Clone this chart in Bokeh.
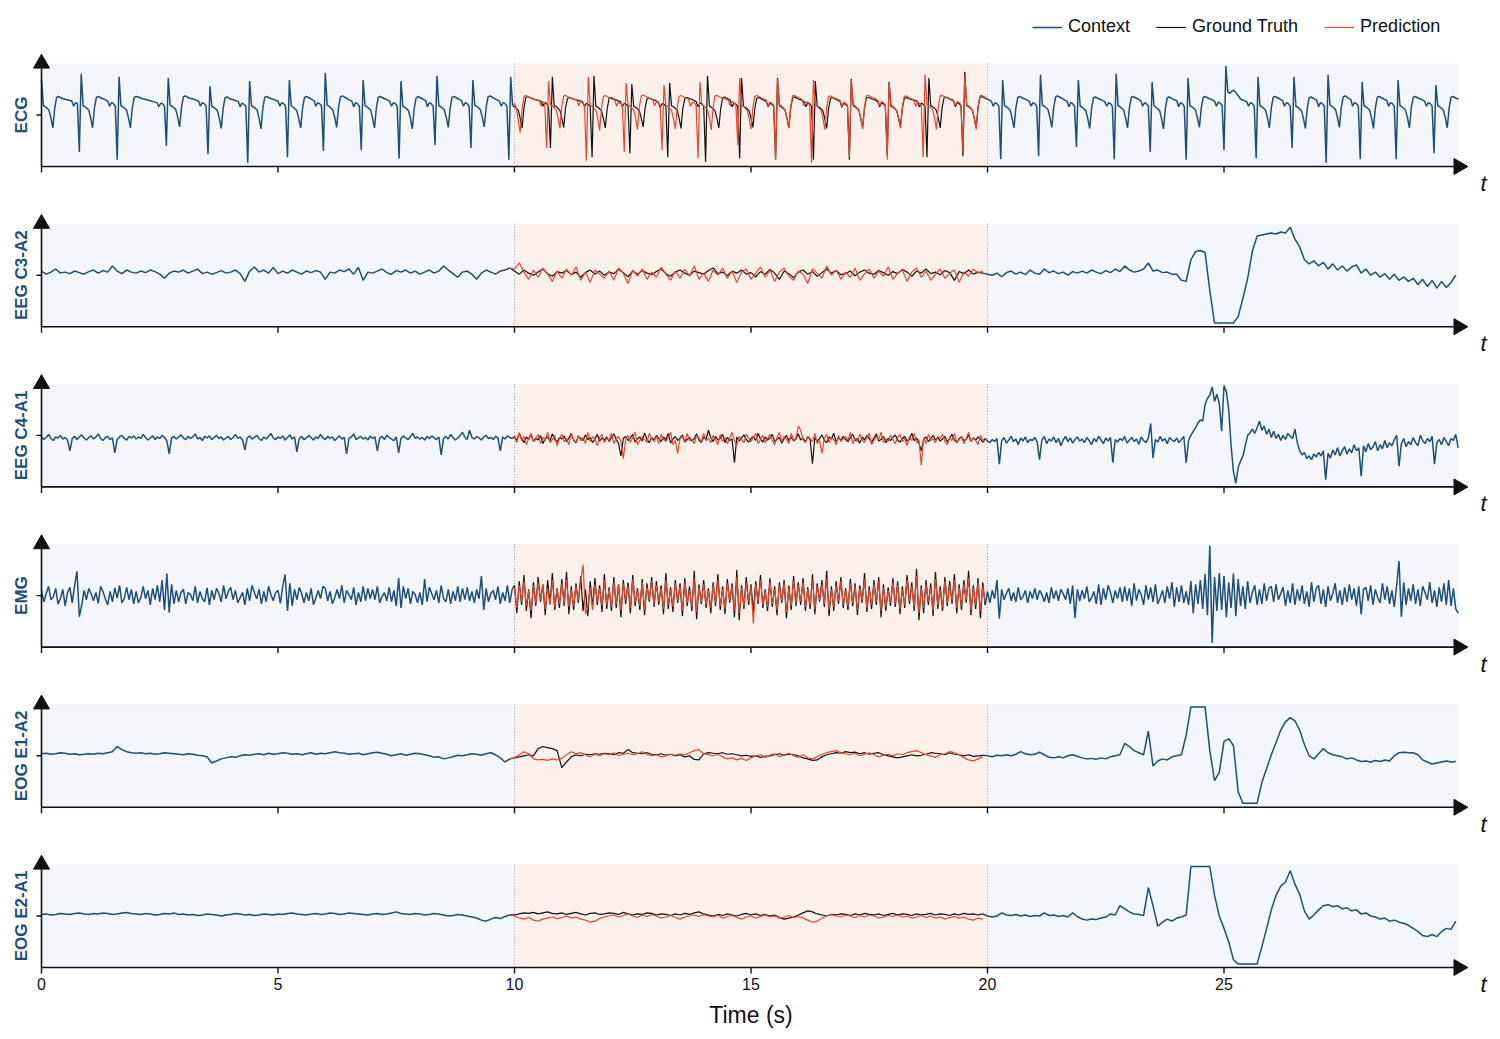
import numpy as np
from bokeh.plotting import figure
from bokeh.layouts import column
from bokeh.models import Range1d, Legend, LegendItem
from bokeh.core.properties import value
from bokeh.embed import file_html
from bokeh.resources import INLINE

# ---------------- chart values (100 = full half-height) ----------------
channels = ["ECG", "EEG C3-A2", "EEG C4-A1", "EMG", "EOG E1-A2", "EOG E2-A1"]
sample_rates = [25, 10, 20, 20, 10, 10]          # samples per second of the typed series
x_ticks = [0, 5, 10, 15, 20, 25]
x_tick_labels = ["0", "5", "10", "15", "20", "25"]
context_end = 10.0
forecast_end = 20.0
record_end = 29.96
x_label = "Time (s)"
legend_labels = ["Context", "Ground Truth", "Prediction"]

ecg_ctx_a = [
    68, 18, 16, 13, 9, -6, -25, 14, 34, 36, 34, 32, 31, 30, 29, 28, 27, 17, 24, 22,
    -72, 80, 18, 16, 13, 9, -6, -25, 14, 34, 36, 34, 32, 31, 29, 27, 17, 24, 22, 17,
    -87, 74, 18, 16, 13, 9, -6, -25, 14, 34, 36, 35, 34, 32, 31, 30, 29, 28, 27, 26, 25, 24, 16, 23, 22, 17,
    -60, 72, 19, 17, 14, 10, -4, -23, 15, 35, 37, 35, 33, 32, 31, 30, 28, 27, 17, 24, 22, 17,
    -76, 56, 17, 15, 12, 8, -7, -26, 13, 33, 35, 33, 31, 30, 29, 27, 26, 16, 23, 21, 17,
    -93, 66, 18, 16, 13, 9, -6, -27, 14, 34, 36, 34, 32, 31, 30, 28, 27, 17, 24, 22, 17,
    -82, 68, 18, 15, 12, 8, -8, -25, 14, 34, 36, 34, 32, 30, 28, 17, 24, 22, 17,
    -70, 82, 19, 17, 13, 9, -5, -24, 15, 35, 37, 35, 33, 31, 29, 27, 16, 24, 22, 17,
    -68, 68, 18, 16, 13, 9, -6, -25, 14, 34, 36, 34, 32, 31, 29, 27, 17, 24, 22, 17,
    -85, 66, 17, 15, 12, 8, -7, -27, 13, 33, 36, 34, 32, 30, 28, 16, 24, 22, 17,
    -58, 76, 18, 16, 13, 9, -6, -24, 14, 34, 36, 34, 32, 30, 28, 17, 24, 22, 17,
    -64, 68, 19, 17, 14, 10, -5, -23, 15, 35, 37, 35, 33, 31, 29, 27, 17, 24, 22, 17,
    -87, 74, 18,
]
ecg_truth = [
    16, 13, 9, -6, -25, 14, 34, 36, 34, 32, 31, 30, 29, 28, 27, 17, 24, 22, 17,
    -64, 74, 18, 16, 13, 9, -6, -24, 14, 32, 34, 32, 31, 30, 29, 28, 27, 26, 16, 23, 21, 17,
    -82, 76, 17, 15, 12, 8, -7, -25, 13, 32, 34, 32, 30, 29, 27, 26, 16, 23, 21, 17,
    -74, 60, 17, 15, 12, 8, -6, -23, 13, 31, 33, 32, 30, 29, 27, 25, 15, 22, 21, 17,
    -82, 62, 18, 16, 13, 9, -6, -26, 14, 32, 34, 33, 31, 30, 28, 26, 16, 23, 22, 17,
    -91, 76, 18, 15, 12, 8, -7, -25, 13, 33, 35, 33, 31, 29, 16, 23, 21, 17,
    -84, 72, 17, 15, 12, 8, -6, -24, 13, 32, 34, 32, 30, 28, 27, 16, 23, 21, 17,
    -87, 72, 18, 16, 13, 9, -6, -25, 14, 33, 35, 33, 31, 30, 28, 26, 16, 24, 22, 17,
    -87, 66, 17, 15, 12, 8, -7, -26, 13, 32, 34, 32, 30, 28, 27, 15, 23, 21, 17,
    -87, 70, 18, 16, 13, 9, -6, -24, 14, 33, 34, 33, 31, 30, 28, 26, 16, 23, 22, 17,
    -78, 64, 17, 15, 12, 8, -6, -23, 13, 32, 34, 32, 31, 30, 29, 28, 26, 16, 23, 21, 17,
    -82, 72, 18, 16, 13, 9, -6, -25, 14, 33, 35, 33, 31, 29, 28, 16, 24, 22, 17,
    -80, 84, 18, 16, 13, 9, -6, -25, 14, 34, 36, 34, 32,
]
ecg_pred = [
    22, 12, -10, -34, 10, 36, 38, 36, 34, 33, 31, 30, 29, 28, 18, 26, 22,
    -64, 66, 20, 18, 14, 10, -5, -26, 16, 37, 38, 36, 34, 33, 32, 30, 29, 18, 26, 24, 19,
    -89, 74, 19, 17, 13, 9, -6, -30, 15, 36, 38, 36, 34, 32, 30, 29, 17, 25, 23, 19,
    -72, 62, 20, 18, 14, 10, -5, -28, 16, 37, 39, 37, 35, 33, 31, 30, 18, 26, 24, 19,
    -68, 58, 19, 17, 13, 9, -6, -27, 15, 36, 38, 36, 34, 32, 30, 17, 25, 23, 19,
    -84, 64, 20, 18, 14, 10, -5, -29, 16, 37, 38, 36, 34, 33, 32, 30, 29, 18, 26, 24, 19,
    -58, 72, 19, 17, 13, 9, -6, -27, 15, 36, 38, 36, 34, 32, 31, 29, 17, 25, 23, 19,
    -87, 70, 20, 18, 14, 10, -5, -26, 16, 37, 38, 36, 34, 32, 30, 18, 26, 24, 19,
    -93, 68, 19, 17, 13, 9, -6, -28, 15, 36, 37, 35, 33, 32, 30, 29, 17, 25, 23, 19,
    -82, 68, 20, 18, 14, 10, -5, -27, 16, 37, 38, 36, 34, 33, 31, 29, 18, 26, 24, 19,
    -87, 62, 19, 17, 13, 9, -6, -26, 15, 36, 37, 35, 33, 31, 30, 17, 25, 23, 19,
    -82, 78, 20, 18, 14, 10, -5, -28, 16, 37, 38, 36, 34, 33, 32, 30, 29, 18, 26, 24, 19,
    -72, 78, 20, 18, 14, 10, -5, -28, 16, 37, 38, 36, 34,
]
ecg_ctx_b = [
    31, 29, 27, 17, 24, 22, 17,
    -86, 68, 18, 16, 13, 9, -6, -25, 14, 34, 36, 34, 32, 31, 29, 27, 17, 24, 22, 17,
    -80, 78, 19, 17, 14, 10, -5, -24, 15, 35, 37, 35, 33, 31, 29, 27, 16, 24, 22, 17,
    -62, 68, 17, 15, 12, 8, -7, -26, 13, 33, 35, 33, 31, 30, 28, 26, 17, 24, 22, 17,
    -86, 80, 18, 16, 13, 9, -6, -25, 14, 34, 36, 34, 32, 30, 28, 17, 24, 22, 17,
    -72, 64, 18, 15, 12, 8, -7, -27, 13, 33, 35, 33, 31, 29, 28, 16, 24, 22, 17,
    -87, 72, 18, 16, 13, 9, -6, -24, 14, 34, 36, 34, 32, 31, 29, 27, 17, 25, 23, 19,
    -68, 95, 45, 42, 46, 48, 45, 40, 35, 30, 29, 27, 26, 17, 24, 22, 17,
    -84, 74, 18, 16, 13, 9, -6, -25, 14, 34, 36, 34, 32, 30, 28, 17, 24, 22, 17,
    -64, 74, 17, 15, 12, 8, -7, -26, 13, 33, 35, 33, 31, 29, 16, 24, 22, 17,
    -93, 78, 19, 17, 14, 10, -5, -24, 15, 35, 37, 35, 32, 30, 17, 24, 22, 17,
    -86, 64, 18, 16, 13, 9, -6, -26, 14, 34, 36, 34, 32, 30, 28, 17, 24, 22, 17,
    -86, 68, 18, 16, 13, 9, -6, -25, 14, 34, 36, 34, 32, 31, 29, 27, 17, 24, 22, 17,
    -74, 58, 18, 16, 13, 9, -6, -25, 14, 34, 36, 34, 32, 31,
]

c3_ctx_a = [
    8, 2, 6, 12, 4, 6, 3, 8, 5, 2,
    7, 10, 4, 9, 6, 18, 8, 3, 10, 6,
    4, 8, 5, 10, 7, 2, -6, 4, 8, 6,
    10, 4, 8, 12, 3, 6, 2, 5, 9, 4,
    6, 10, 3, -12, 8, 16, 6, 10, 4, 15,
    3, 8, 4, 10, 6, 2, 8, 5, 9, 6,
    -8, 6, 4, 10, 7, 12, 2, 15, -10, 6,
    4, 8, 12, 5, 2, 9, 6, 10, 4, 8,
    2, 6, 10, 4, 8, 18, 10, 3, -4, 6,
    8, 2, -8, 4, 10, 6, 2, 8, 10, 14,
]
c3_truth = [
    8, 2, 10, 4, 0, 6, 12, 3, -2, 7,
    4, 9, 1, 6, -4, 5, 10, 2, 8, 0,
    6, 3, 11, 5, -3, 8, 2, 9, 4, 1,
    7, 12, 3, -2, 6, 10, 4, 0, 8, 5,
    2, 9, 14, 3, 6, -1, 8, 4, 10, 2,
    5, -3, 7, 2, 11, 4, -8, 8, 3, -5,
    6, 10, 2, 7, -2, 5, 12, 4, 9, 1,
    3, 8, -1, 6, 10, 4, 2, 9, 5, 0,
    7, 3, 11, 6, -2, 8, 4, 12, 3, 6,
    1, 9, 5, -10, 7, 3, 10, 2, 6, 4,
]
c3_pred = [
    12, 24, 6, -8, 10, -4, 14, 2, -12, 8,
    -6, 12, 0, 16, -10, 6, -14, 10, 2, -6,
    8, -10, 14, 4, -16, 10, -2, 12, -8, 6,
    -4, 16, 2, -10, 8, -6, 12, -2, 18, -8,
    4, -12, 10, 0, 14, -6, 8, -14, 6, 12,
    -8, 4, 16, -4, 10, -12, 6, 14, -2, -10,
    8, 2, -16, 12, 4, -6, 18, 0, 10, -8,
    6, -4, 14, -10, 2, 12, -6, 8, -2, 16,
    -8, 4, 10, -12, 6, 14, -4, 8, -10, 2,
    12, -6, 4, 10, -14, 6, -2, 12, 4, 8,
]
c3_ctx_b = [
    2, 0, 4, -3, 5, 8, 2, 6, 1, 10,
    4, 2, 12, 5, 8, 3, 6, 0, 7, 4,
    8, 4, 10, 6, 3, 9, 5, 12, 7, 18,
    10, 6, 8, 12, 24, 8, 10, 5, 6, 2,
    2, -10, -12, 30, 46, 48, 44, -30, -93, -93,
    -93, -93, -93, -80, -45, -6, 47, 76, 78, 80,
    82, 80, 84, 82, 93, 70, 55, 30, 22, 28,
    18, 25, 12, 22, 10, 18, 8, 16, 20, 4,
    12, 0, 6, -4, 3, -8, 2, -10, -3, -12,
    -6, -18, -8, -22, -10, -25, -12, -24, -14, 0,
]

c4_ctx_a = [
    -2, -8, -4, 2, -6, -10, -3, -5, 0, -7, -4, -9, -30, -6, -2, -8, -3, 1, -5, -9,
    -4, -1, -7, -3, 3, -6, -10, -4, -2, -8, -5, -34, -8, -3, 0, -6, -9, -2, -5, -1,
    -7, -3, -6, 2, -4, -9, -5, -1, -8, -3, -6, 0, -4, -10, -36, -5, -2, -7, -3, 1,
    -5, -8, -2, -6, -3, 3, -7, -4, -10, -2, -5, -1, -8, -4, 0, -6, -3, -9, -5, -2,
    -8, -4, 2, -6, -3, -9, -28, -5, -1, -7, -4, 0, -6, -10, -3, -7, -2, 4, -5, -8,
    -3, -6, -1, -9, -4, 1, -7, -3, -32, -6, -2, -8, -5, 0, -4, -9, -3, -6, 2, -5,
    -8, -2, -6, -3, -10, -5, -1, -7, -4, -36, -6, -3, 3, -8, -5, -2, -7, -4, -9, -1,
    -6, -3, -30, -5, -2, -8, 0, -4, -7, -10, -3, -34, -6, -1, -5, -8, -2, 4, -6, -3,
    -7, -4, -9, -2, -6, -1, -5, -8, -3, -38, -6, -2, -7, 2, -4, -9, -5, 0, 6, -3,
    -8, 10, -4, -7, -2, -5, -9, -3, 0, -6, -4, -8, -2, -5, -30, -3, -7, -1, -4, -6,
]
c4_truth = [
    -2, -10, 4, -6, -14, -3, -8, 2, -12, -5, -9, 0, -16, -6, -3, -11, 3, -8, -13, -4,
    -7, -1, -12, -5, 4, -9, -15, -2, -6, -10, 1, -8, -4, -14, -7, 2, -11, -5, -9, -3,
    -12, -4, 3, -8, -16, -40, -6, -2, -10, -5, 2, -13, -7, -3, -11, 5, -8, -14, -4, -9,
    0, -6, -12, -3, -9, 4, -15, -7, -2, -10, -5, 1, -13, -8, -4, -11, -6, 3, -9, -14,
    -3, -8, 10, -5, -12, -2, -9, -6, 2, -14, -4, -10, -7, -53, -3, -11, -5, 1, -8, -13,
    -6, -2, -10, 4, -7, -13, -3, -9, -5, 2, -12, -8, -4, -15, -6, 0, -10, -3, -11, -7,
    3, -9, -5, -13, -2, -8, -55, -4, -11, -6, 1, -10, -14, -3, -7, 4, -12, -5, -9, -2,
    -8, -12, -4, 2, -10, -6, -15, -3, -9, 0, -7, -13, -5, 3, -11, -8, -2, -14, -6, -10,
    -4, 1, -9, -13, -6, -2, -11, -7, 4, -10, -5, -15, -30, -8, -3, -12, -6, 0, -9, -4,
    -11, -7, -2, -13, -5, 2, -9, -14, -6, -3, -10, -8, 1, -12, -5, -9, -3, -7, -13, -6,
]
c4_pred = [
    -4, -14, 6, -10, -2, -18, -6, 4, -12, -8, 2, -16, -4, -10, 6, -14, -8, 0, -20, -6,
    2, -12, -6, -18, 4, -8, -14, 0, -10, -4, -16, 6, -12, -2, -8, -20, -4, 2, -14, -6,
    -10, 4, -16, -6, -2, -12, -45, -8, 0, -14, -4, 6, -18, -10, -2, -8, -14, 4, -6, -12,
    -2, -16, 2, -8, -12, -4, 6, -18, -10, -35, -6, -2, -14, 4, -10, -8, -16, 0, -6, -12,
    4, -10, -6, -14, 0, -8, -18, 2, -12, -4, -16, -6, 6, -10, -20, -2, -8, -14, 2, -6,
    -12, -4, 4, -16, -8, 0, -14, -6, 2, -10, -18, -4, 6, -12, -2, -8, -16, 4, -10, -6,
    18, 10, -8, -14, -2, -6, -12, 4, -16, -10, -35, -6, 2, -14, -4, -8, -18, 0, -12, -6,
    -2, -10, 6, -16, -6, -12, 2, -8, -14, -4, 4, -18, -10, -2, -8, 6, -14, -6, -12, 0,
    -8, -16, -4, 2, -12, -6, -20, -2, -10, 4, -14, -8, -58, -4, -16, 2, -10, -6, -14, -2,
    -6, 2, -12, -18, -4, -10, 4, -14, -8, -2, -16, -6, 6, -12, -4, -10, -18, 0, -8, -12,
]
c4_ctx_b = [
    -11, -14, -8, -12, -6, -56, -10, -4, -15, -9, -2, -12, -7, -18, -5, -11, -3, -14, -8, -10,
    -4, -13, -47, -9, -2, -16, -7, -11, -3, -14, -6, -20, -9, -2, -12, -5, -15, -8, -3, -11,
    -7, -14, -4, -10, -18, -6, -12, -2, -9, -16, -5, -11, -4, -53, -8, -13, -6, -10, -2, -15,
    -9, -4, -12, -7, -17, -3, -10, -14, -5, 23, -44, -8, -13, -2, -11, -6, -16, -4, -9, -12,
    -5, -14, -8, -2, -53, -10, 0, 8, 15, 24, 30, 28, 60, 72, 78, 94, 66, 80, 62, 8,
    97, 85, 50, -20, -70, -93, -62, -50, -40, -20, 0, 5, 12, 4, 15, 28, 10, 18, 2, 12,
    -4, 8, -6, 2, -10, 0, -8, 4, -2, -6, 12, -14, -30, -38, -33, -45, -40, -47, -36, -42,
    -33, -40, -30, -86, -35, -44, -28, -38, -24, -40, -30, -22, -36, -26, -34, -18, -30, -24, -79, -20,
    -32, -16, -28, -22, -12, -30, -18, -26, -10, -24, -14, -20, -8, 0, -60, -16, -6, -22, -12, -18,
    -4, -14, -20, 0, -10, -16, -6, -12, -2, -56, -14, -8, -18, -4, -12, -20, -6, -10, 2, -24,
]

emg_ctx_a = [
    10, -12, 4, 18, -8, -2, 14, -16, -6, 12, -20, 6, 16, -14, 20, 47, -41, -18, 10, -8,
    14, 3, -10, 6, -15, 18, 8, -6, -18, 8, -12, 15, -5, 20, -14, -6, 16, -8, 12, -16,
    8, -14, -4, 18, -6, 10, -18, 14, -8, 20, -12, 30, -28, 43, -33, 22, -16, 10, -12, 6,
    12, -16, 6, 2, -10, 18, -14, 8, -6, -12, 15, -18, 10, -8, 14, 4, -12, 20, -6, 8,
    16, -8, 10, -14, -4, 6, -18, 14, -10, 20, 6, -6, 12, -16, 8, -12, 18, 2, -10, 6,
    10, -15, 18, 41, -30, 24, -20, 12, -8, 16, 4, -14, 6, -10, 14, -18, -4, 10, -6, 18,
    14, -10, 8, -16, -4, 12, -6, 20, -14, 10, 2, -8, 16, -18, 6, -12, 18, -10, 14, -6,
    12, -8, 18, -14, -2, 6, -10, 16, -12, 10, -20, 34, -24, 18, -6, 14, -16, 8, 2, -14,
    6, -18, 32, -12, 16, 4, -8, 10, -14, 20, -6, -12, 12, -16, 8, -10, 18, -12, 14, -8,
    16, -10, 8, -14, 12, -6, 38, -28, 14, -12, 4, 10, -8, 18, -16, 6, -10, 20, -14, 12,
]
emg_truth = [
    20, -34, 28, -18, 40, -30, 12, -44, 26, -20, 36, -12, 22, -38, 30, -16, 44, -28, 14, -24,
    32, -20, 46, -36, 18, -28, 24, -14, 38, -30, 12, -40, 28, -22, 34, -18, 20, -32, 42, -26,
    16, -30, 36, -24, 22, -42, 30, -16, 26, -34, 40, -20, 14, -28, 32, -38, 24, -12, 36, -22,
    28, -18, 20, -36, 44, -26, 16, -32, 30, -14, 24, -40, 34, -20, 18, -30, 48, -46, 22, -16,
    30, -24, 14, -34, 26, -20, 42, -28, 18, -36, 32, -14, 24, -42, 50, -48, 20, -26, 36, -18,
    22, -32, 28, -16, 40, -24, 12, -30, 34, -22, 18, -38, 26, -14, 30, -44, 20, -28, 38, -20,
    26, -18, 34, -30, 16, -26, 42, -36, 24, -12, 30, -22, 48, -40, 18, -30, 28, -16, 36, -24,
    14, -28, 32, -20, 24, -38, 20, -14, 44, -32, 18, -26, 30, -18, 36, -42, 22, -30, 16, -20,
    34, -22, 28, -36, 18, -24, 40, -16, 26, -30, 52, -48, 20, -34, 30, -18, 24, -40, 46, -26,
    18, -30, 36, -20, 28, -16, 42, -34, 22, -28, 30, -14, 48, -38, 20, -26, 34, -44, 26, -18,
]
emg_pred = [
    16, -24, 20, -12, 28, -20, 10, -30, 18, -14, 26, -8, 22, -26, 14, -18, 30, -22, 12, -16,
    24, -14, 30, -22, 12, -20, 18, -10, 28, 60, -36, -24, 16, -28, 22, -12, 14, -20, 30, -18,
    12, -22, 26, -16, 20, -30, 24, -10, 18, -24, 32, -14, 10, -20, 26, -28, 16, -8, 28, -18,
    20, -12, 14, -26, 30, -18, 12, -22, 24, -10, 18, -30, 26, -14, 10, -22, 34, -32, 16, -12,
    22, -18, 10, -24, 20, -14, 30, -20, 12, -26, 24, -10, 18, -30, 36, -34, 14, -20, 26, -12,
    18, -54, 22, -12, 30, -18, 8, -22, 26, -16, 12, -28, 20, -10, 24, -32, 14, -20, 28, -14,
    20, -12, 26, -22, 12, -18, 32, -26, 18, -8, 22, -16, 34, -28, 12, -22, 20, -10, 28, -18,
    10, -20, 24, -14, 18, -28, 14, -10, 32, -24, 12, -18, 22, -12, 28, -30, 16, -22, 10, -14,
    26, -16, 20, -26, 12, -18, 30, -10, 18, -22, 38, -34, 14, -24, 22, -12, 16, -30, 32, -18,
    12, -22, 28, -14, 20, -10, 30, -24, 16, -20, 22, -8, 34, -28, 14, -18, 26, -30, 18, -12,
]
emg_ctx_b = [
    8, -14, 10, -6, 30, -45, 12, -8, 4, 14, -10, 6, -12, 16, -8, -2, 10, -14, 8, -6,
    14, -8, 10, 2, -12, 6, -14, 16, -6, 10, -10, 12, 4, -8, 14, -16, 20, -44, 12, -10,
    10, -6, 18, -12, -4, 8, -16, 22, -18, 14, -8, 20, 6, -14, 10, -6, 16, -12, 18, -10,
    14, -20, 24, -10, 12, 2, -18, 20, -8, 16, -12, 22, -16, -4, 10, -14, 18, -6, 26, -22,
    16, -12, 20, -14, 8, -18, 28, -34, 22, -16, 30, -26, 42, -38, 97, -92, 36, -30, 44, -28,
    38, -42, 26, -24, 43, -40, 32, -20, 18, -26, 28, -14, 6, 20, -18, 12, -16, 24, -10, 14,
    18, -12, 22, -8, 4, 16, -20, 10, -14, 24, -18, 12, -10, 20, -16, 8, -22, 26, -12, 14,
    20, -16, 12, -22, 18, -10, 4, 24, -14, 10, -18, 16, -12, 22, -8, 14, -20, 18, -36, 12,
    16, -10, 20, -18, 12, -4, -14, 24, -8, 18, -16, 10, -22, 20, 67, -41, 26, -18, 14, -10,
    22, -16, 12, -20, 18, 6, -8, 26, -14, 10, -22, 16, -12, 24, -18, 30, -20, 14, -26, -34,
]

e1_ctx_a = [
    4, 5, 3, 4, 6, 5, 3, 4, 2, 3,
    4, 3, 5, 4, 6, 8, 18, 12, 8, 6,
    5, 6, 4, 5, 3, 4, 6, 5, 4, 3,
    2, 4, 3, 1, 0, -2, -14, -10, -6, -4,
    -2, -3, 0, 2, 1, 3, 4, 2, 5, 3,
    4, 6, 5, 3, 4, 2, 4, 6, 3, 5,
    4, 6, 8, 6, 5, 3, 4, 5, 2, 4,
    6, 7, 5, 3, 0, 2, 4, 1, 3, 5,
    4, 2, 0, -3, -2, -6, -4, -2, 1, 0,
    2, 4, 3, 1, 4, 6, 2, -4, -12, -6,
]
e1_truth = [
    -4, -2, 0, 2, 0, 14, 18, 16, 14, 10,
    -23, -12, -2, 2, 0, 3, 2, 4, 3, 5,
    4, 2, 6, 5, 12, 6, 5, 4, 6, 3,
    2, 4, 1, 3, 0, 2, -2, 0, -7, -8,
    4, 6, 5, 4, 6, 3, 4, 2, 0, 1,
    -1, 0, -3, -1, 0, 2, 4, 1, 3, 2,
    0, -4, -6, -9, -8, -2, 2, 4, 6, 5,
    8, 6, 7, 4, 6, 3, 5, 6, 2, 0,
    -2, -4, -2, 0, 2, 0, 1, 3, 6, 5,
    4, 2, 6, 3, 2, 0, 2, -1, 0, 1,
]
e1_pred = [
    -4, 2, 8, 4, -6, -8, -7, -9, -6, -8,
    -5, 2, 8, 4, 6, 2, -2, 3, 0, 4,
    2, 6, 0, 3, 5, 2, 4, 8, 3, 0,
    2, -2, 0, 3, 1, 4, 2, 6, 10, 12,
    4, 2, 0, 3, -2, -6, -4, -8, -5, -9,
    -4, 0, 2, -3, 1, 4, -2, 2, 5, 0,
    -3, 2, -4, -6, -2, 3, 6, 8, 10, 6,
    4, 2, 5, 0, 3, 6, 2, -2, 1, 3,
    0, 4, 2, 6, 8, 10, 6, 2, 0, -3,
    2, 4, 8, 6, 2, -4, -8, -10, -6, -2,
]
e1_ctx_b = [
    0, -2, 1, 0, 2, 0, 3, 8, 4, 2,
    3, 7, 2, -3, -4, -2, -4, 0, 2, -1,
    -4, -6, -5, -7, -4, -6, -2, 0, 2, 24,
    18, 10, 6, 2, 48, -20, -10, -6, -8, -2,
    0, 2, 40, 95, 95, 95, 95, 10, -48, -32,
    28, 33, 20, -70, -92, -92, -92, -92, -52, -25,
    2, 26, 50, 66, 74, 68, 50, 22, 0, -6,
    4, 14, 6, 2, 0, -2, -6, -4, -8, -11,
    -10, -12, -9, -11, -8, -10, 0, 6, 7, 6,
    6, 2, -8, -12, -16, -14, -12, -10, -12, -11,
]

e2_ctx_a = [
    3, 4, 2, 3, 5, 4, 3, 5, 6, 4,
    3, 5, 4, 6, 5, 3, 4, 6, 7, 5,
    4, 3, 5, 4, 2, 3, 5, 4, 6, 3,
    4, 2, 3, 1, 2, 4, 3, 2, 0, 2,
    3, 5, 4, 2, 3, 1, 2, 4, 3, 2,
    4, 3, 5, 6, 4, 3, 2, 4, 5, 3,
    4, 6, 5, 3, 4, 6, 5, 4, 3, 2,
    4, 5, 3, 4, 6, 8, 5, 4, 3, 5,
    4, 2, 3, 5, 4, 2, 0, 1, 3, 2,
    0, -2, -4, -8, -10, -6, -3, -5, -1, 2,
]
e2_truth = [
    2, 4, 6, 5, 7, 4, 6, 8, 5, 4,
    6, 3, 5, 7, 4, 2, 5, 6, 3, 4,
    6, 5, 3, 7, 4, 2, 4, 3, 6, 5,
    2, 4, 3, 1, 4, 2, 5, 3, 6, 8,
    4, 2, 0, 3, 1, 4, 2, 0, 3, 5,
    2, 4, 1, 3, 0, 2, -3, -6, -4, -2,
    2, 6, 10, 8, 4, 2, 0, 3, 2, 4,
    3, 1, 4, 2, 5, 3, 2, 4, 1, 3,
    5, 2, 4, 3, 1, 4, 2, 3, 5, 2,
    4, 3, 1, 4, 2, 5, 3, 4, 2, 4,
]
e2_pred = [
    0, -4, -6, -3, -8, -10, -6, -4, -2, -5,
    -3, 0, -4, -2, -6, -8, -12, -10, -5, -2,
    0, 2, -2, 1, 4, 0, -3, 2, -1, 3,
    0, -4, -2, 1, -3, -6, -2, 0, 2, -1,
    3, 0, -2, 2, -4, -1, 1, -3, -6, -2,
    0, -4, -1, 2, -2, 0, -4, -2, 1, -3,
    -1, -4, -8, -12, -10, -4, 0, 3, 0, -2,
    2, 0, -3, 1, -2, 2, 0, -4, -2, 1,
    -1, 2, -2, 0, -4, -2, 1, -3, 0, -4,
    -2, -6, -3, -1, -4, -2, -6, -8, -4, -6,
]
e2_ctx_b = [
    0, -2, 0, 6, 2, 1, 3, 0, 2, -1,
    1, 0, 6, 1, 2, -1, 1, -2, 6, -1,
    -6, -8, -6, -7, -4, -2, 4, 2, 20, 14,
    8, 4, 3, 1, 55, 20, -20, -12, -6, -10,
    -4, -2, 2, 96, 96, 96, 96, 96, 40, 0,
    -24, -50, -85, -93, -93, -93, -93, -93, -60, -25,
    12, 40, 58, 66, 88, 62, 42, 10, -6, 2,
    12, 20, 22, 18, 20, 14, 16, 10, 12, 4,
    6, 0, -2, -6, -4, -10, -8, -12, -14, -18,
    -24, -30, -38, -40, -36, -40, -30, -24, -26, -10,
]

context_a = [ecg_ctx_a, c3_ctx_a, c4_ctx_a, emg_ctx_a, e1_ctx_a, e2_ctx_a]
truth = [ecg_truth, c3_truth, c4_truth, emg_truth, e1_truth, e2_truth]
prediction = [ecg_pred, c3_pred, c4_pred, emg_pred, e1_pred, e2_pred]
context_b = [ecg_ctx_b, c3_ctx_b, c4_ctx_b, emg_ctx_b, e1_ctx_b, e2_ctx_b]

# ---------------- styling / layout ----------------
C_CONTEXT = "#1f4e79"
C_TRUTH = "#111111"
C_PRED = "#e5472e"
BG_CONTEXT = "#f3f7fc"
BG_FORECAST = "#fcf1ea"
SPINE = "#111111"
FONT_NAME = "Liberation Sans"
FONT = value(FONT_NAME)

W = 1500
X0 = 41.0      # pixel of t = 0
XS = 47.3      # pixels per second
YS = 51.5      # pixels per unit (half panel height)
fig_tops = [0, 200, 360, 520, 680, 840]
fig_heights = [200, 160, 160, 160, 160, 199]
centers = [114.5 + 160.2 * k for k in range(6)]

figs = []
for k, name in enumerate(channels):
    top, h, c = fig_tops[k], fig_heights[k], centers[k]
    p = figure(width=W, height=h, title=None,
               x_range=Range1d(-X0 / XS, (W - X0) / XS),
               y_range=Range1d(-(top + h - c) / YS, (c - top) / YS),
               x_axis_type=None, y_axis_type=None,
               toolbar_location=None, output_backend="svg", min_border=0)
    p.outline_line_color = None
    p.background_fill_color = "white"
    p.border_fill_color = "white"

    # shaded regions
    p.quad(left=[0, context_end, forecast_end], right=[context_end, forecast_end, record_end],
           bottom=-1, top=1, fill_color=[BG_CONTEXT, BG_FORECAST, BG_CONTEXT], line_color=None)
    p.segment(x0=[context_end, forecast_end], y0=[-1, -1], x1=[context_end, forecast_end], y1=[1, 1],
              line_color="#9a9a9a", line_width=1, line_dash="1 2")

    dt = 1.0 / sample_rates[k]
    a = np.array(context_a[k]) / 100.0
    g = np.array(truth[k]) / 100.0
    pr = np.array(prediction[k]) / 100.0
    b = np.array(context_b[k]) / 100.0
    xa = np.arange(len(a)) * dt
    xg = context_end + np.arange(len(g)) * dt
    xp = context_end + np.arange(len(pr)) * dt
    xb = forecast_end + np.arange(len(b)) * dt

    r_ctx = p.line(xa, a, line_color=C_CONTEXT, line_width=1.5)
    p.line(np.r_[xg[-1], xb], np.r_[g[-1], b], line_color=C_CONTEXT, line_width=1.5)
    r_gt = p.line(np.r_[xa[-1], xg], np.r_[a[-1], g], line_color=C_TRUTH, line_width=1.2)
    r_pr = p.line(np.r_[xa[-1], xp], np.r_[a[-1], pr], line_color=C_PRED, line_width=1.2)

    # axes spines, ticks and arrow heads
    p.segment(x0=[0, 0], y0=[-1, -1], x1=[0, record_end], y1=[1, -1], line_color=SPINE, line_width=1.6)
    p.segment(x0=x_ticks, y0=[-1] * len(x_ticks), x1=x_ticks, y1=[-1 - 6 / YS] * len(x_ticks),
              line_color=SPINE, line_width=1.4)
    p.segment(x0=[0], y0=[0], x1=[-5 / XS], y1=[0], line_color=SPINE, line_width=1.4)
    p.scatter(x=[0], y=[1], marker="triangle", size=16, fill_color=SPINE, line_color=SPINE)
    p.scatter(x=[record_end], y=[-1], marker="triangle", size=16, angle=-np.pi / 2,
              fill_color=SPINE, line_color=SPINE)

    # labels
    p.text(x=[-20 / XS], y=[0], text=[name], angle=np.pi / 2, text_font=FONT,
           text_font_size="17px", text_font_style="bold", text_color=C_CONTEXT,
           text_align="center", text_baseline="middle")
    p.text(x=[(1483 - X0) / XS], y=[-68.5 / YS], text=["t"], text_font=FONT,
           text_font_size="22px", text_font_style="italic", text_color="#111111",
           text_align="center", text_baseline="middle")

    if k == len(channels) - 1:
        p.text(x=x_ticks, y=[-1 - 10 / YS] * len(x_ticks), text=x_tick_labels, text_font=FONT,
               text_font_size="16px", text_color="#111111", text_align="center", text_baseline="top")
        p.text(x=[15], y=[-98.5 / YS], text=[x_label], text_font=FONT, text_font_size="23px",
               text_color="#111111", text_align="center", text_baseline="middle")

    if k == 0:
        legend = Legend(items=[LegendItem(label=legend_labels[0], renderers=[r_ctx]),
                               LegendItem(label=legend_labels[1], renderers=[r_gt]),
                               LegendItem(label=legend_labels[2], renderers=[r_pr])],
                        orientation="horizontal", location=(1032, 163),
                        label_text_font=FONT_NAME, label_text_font_size="18px",
                        label_text_color="#111111",
                        glyph_width=30, glyph_height=20, label_standoff=6, spacing=26,
                        padding=0, margin=0, border_line_color=None, background_fill_alpha=0)
        p.add_layout(legend)
    figs.append(p)

layout = column(*figs, spacing=0)
open("out.html", "w").write(file_html(layout, INLINE))
